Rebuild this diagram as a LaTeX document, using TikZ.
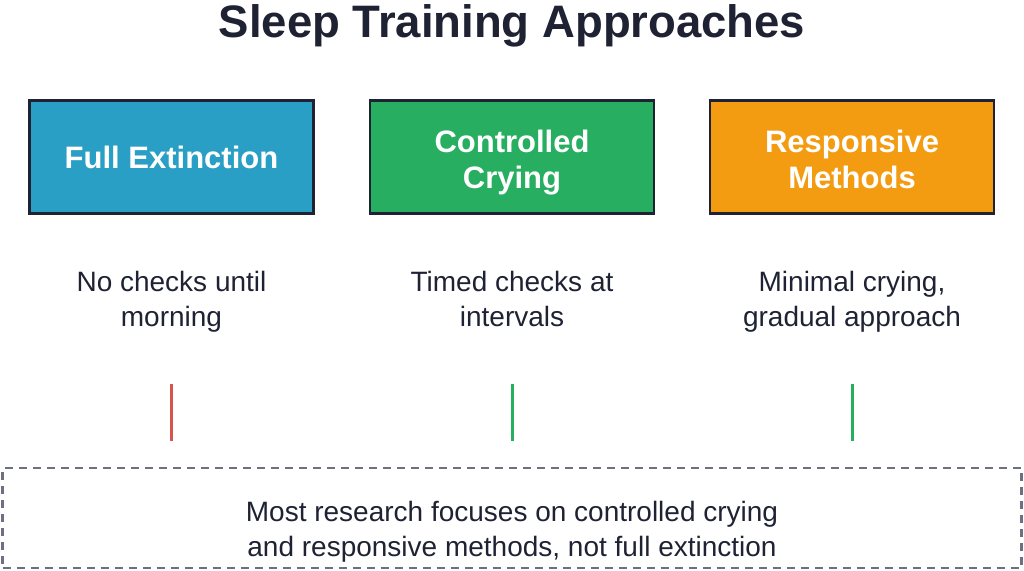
\documentclass[tikz,border=0pt]{standalone}
\usepackage{fontspec}
\setmainfont{Liberation Sans}
\usetikzlibrary{positioning}
\definecolor{inkdark}{HTML}{1E2233}
\definecolor{fullblue}{HTML}{2A9FC6}
\definecolor{ctrlgreen}{HTML}{27AE60}
\definecolor{resporange}{HTML}{F39C12}
\definecolor{tickred}{HTML}{D9534F}
\definecolor{dashgrey}{HTML}{6E7080}
\begin{document}
\begin{tikzpicture}[
			x=1pt, y=-1pt,
			approach/.style = {draw=inkdark, line width=2.2pt, minimum width=284pt, minimum height=113pt,
				text=white, font=\fontsize{31}{36}\selectfont\bfseries, align=center},
			note/.style = {text=inkdark, font=\fontsize{28}{35}\selectfont, align=center},
			tick/.style = {line width=3pt}
		]
		\useasboundingbox (0,0) rectangle (1024,570);
		\node[text=inkdark, font=\fontsize{45.5}{50}\selectfont\bfseries, anchor=base] (title) at (512,37) {Sleep Training Approaches};
		% the three approaches
		\node[approach, fill=fullblue] (full) at (171.5,157) {Full Extinction};
		\node[approach, fill=ctrlgreen] (ctrl) at (512,157) {};
		\node[approach, fill=resporange] (resp) at (852,157) {};
		\node[approach, draw=none, minimum height=0pt] (ctrltext) at (512,162.5) {Controlled\\Crying};
		\node[approach, draw=none, minimum height=0pt] (resptext) at (852,159.5) {Responsive\\Methods};
		\node[note] (fullnote) at (171.5,301.5) {No checks until\\morning};
		\node[note] (ctrlnote) at (512,298.5) {Timed checks at\\intervals};
		\node[note] (respnote) at (852,301.5) {Minimal crying,\\gradual approach};
		\coordinate (fulltop) at (171.5,384);
		\coordinate (fullbot) at (171.5,441);
		\coordinate (ctrltop) at (512,384);
		\coordinate (ctrlbot) at (512,441);
		\coordinate (resptop) at (852,384);
		\coordinate (respbot) at (852,441);
		\draw[tick, tickred] (fulltop) -- (fullbot);
		\draw[tick, ctrlgreen] (ctrltop) -- (ctrlbot);
		\draw[tick, ctrlgreen] (resptop) -- (respbot);
		% research summary
		\node[draw=dashgrey, line width=2.2pt, dash pattern=on 8pt off 6pt, minimum width=1019pt, minimum height=100pt]
			(summarybox) at (512,518) {};
		\node[note] (summary) at (512,532) {Most research focuses on controlled crying\\and responsive methods, not full extinction};
	\end{tikzpicture}
\end{document}
